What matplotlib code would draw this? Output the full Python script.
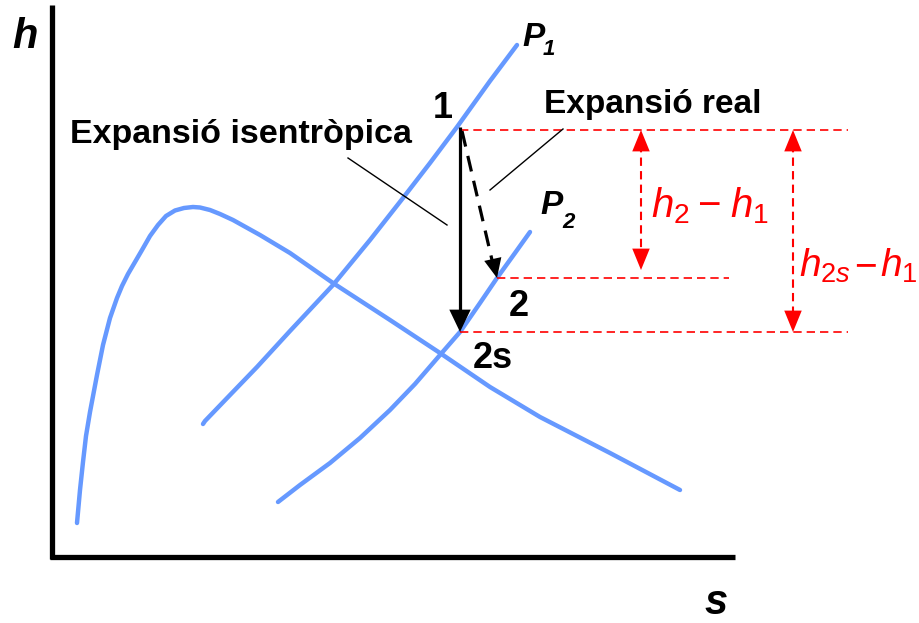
import matplotlib
matplotlib.use("Agg")
import matplotlib.pyplot as plt

plt.rcParams['font.family'] = ['Liberation Sans', 'DejaVu Sans']
plt.rcParams['mathtext.fontset'] = 'custom'
plt.rcParams['mathtext.it'] = 'Liberation Sans:italic'
plt.rcParams['mathtext.rm'] = 'Liberation Sans'
plt.rcParams['mathtext.sf'] = 'Liberation Sans'

# Curves (s, h) in picture coordinates
dome_s = [77, 80, 83, 86, 90, 97, 103, 110, 117, 122, 128, 135, 142, 150, 158, 166, 175, 184, 193, 200, 210, 220, 233, 260, 290, 333, 390, 440, 490, 540, 610, 680]
dome_h = [523, 490, 462, 436, 412, 375, 345, 318, 298, 286, 274, 262, 250, 236, 225, 216, 210.5, 208, 207, 207.5, 210, 214, 220, 235, 253, 283, 320, 353, 387, 417, 453, 490]
p1_s = [203, 205, 230, 257, 290, 333, 370, 403, 430, 457, 490, 517]
p1_h = [424, 421, 395, 367, 331, 285, 240, 198, 163, 127, 81, 45]
p2_s = [278, 300, 330, 360, 390, 415, 440, 460, 480, 497, 515, 530]
p2_h = [502, 485, 463, 438, 410, 384, 355, 332, 303, 278, 253, 232]

# Key states
s1, h1 = 460, 129
s2, h2 = 497, 278
s2s, h2s = 460, 332

blue = '#6699FF'
red = '#FF0000'

fig = plt.figure(figsize=(9.2, 6.23), dpi=100)
ax = fig.add_axes([0, 0, 1, 1])
ax.set_xlim(0, 920)
ax.set_ylim(623, 0)
ax.axis('off')

# axes lines
ax.plot([52.5, 52.5], [5, 559], color='black', lw=3.8, solid_capstyle='butt')
ax.plot([50.5, 735], [557, 557], color='black', lw=3.8, solid_capstyle='butt')

for xs, ys in [(dome_s, dome_h), (p1_s, p1_h), (p2_s, p2_h)]:
    ax.plot(xs, ys, color=blue, lw=3.2, solid_capstyle='round', solid_joinstyle='round')

# red dashed horizontals
dash = (0, (5, 3))
ax.plot([s1, 848], [h1 + 1, h1 + 1], color=red, lw=1.2, linestyle=dash)
ax.plot([s2, 729], [h2, h2], color=red, lw=1.2, linestyle=dash)
ax.plot([s2s, 848], [h2s, h2s], color=red, lw=1.2, linestyle=dash)

# red double arrows
hs = '-|>,head_length=1.1,head_width=0.45'
for x, ya, yb in [(641, h1 + 1, 270), (793, h1 + 1, h2s)]:
    ax.plot([x, x], [ya + 14, yb - 14], color=red, lw=1.5, linestyle=(0, (4, 2.5)))
    ax.annotate('', xy=(x, ya), xytext=(x, ya + 16),
                arrowprops=dict(arrowstyle=hs, color=red, lw=0, shrinkA=0, shrinkB=0, mutation_scale=14))
    ax.annotate('', xy=(x, yb), xytext=(x, yb - 16),
                arrowprops=dict(arrowstyle=hs, color=red, lw=0, shrinkA=0, shrinkB=0, mutation_scale=14))

# isentropic arrow
ax.plot([s1, s1], [h1 - 2, h2s - 12], color='black', lw=2.3, solid_capstyle='butt')
ax.annotate('', xy=(s2s, h2s), xytext=(s2s, h2s - 18),
            arrowprops=dict(arrowstyle='-|>,head_length=1.15,head_width=0.55', color='black', lw=0,
                            shrinkA=0, shrinkB=0, mutation_scale=14))
# real expansion dashed arrow
ax.plot([s1 + 2, s2 - 5], [h1 + 2, h2 - 18], color='black', lw=2.3, linestyle=(0, (5, 3)))
ax.annotate('', xy=(s2, h2), xytext=(s2 - 4, h2 - 18),
            arrowprops=dict(arrowstyle='-|>,head_length=1.0,head_width=0.45', color='black', lw=0,
                            shrinkA=0, shrinkB=0, mutation_scale=14))

# leader lines
ax.plot([348, 447], [158, 225], color='black', lw=1)
ax.plot([563, 490], [129, 190], color='black', lw=1)

# texts
ax.text(25, 48, 'h', fontsize=30, fontstyle='italic', fontweight='bold', ha='center', va='baseline')
ax.text(716, 614, 's', fontsize=30, fontstyle='italic', fontweight='bold', ha='center', va='baseline')
ax.text(522, 46, 'P', fontsize=24, fontstyle='italic', fontweight='bold', ha='left', va='baseline')
ax.text(543, 55, '1', fontsize=16, fontstyle='italic', fontweight='bold', ha='left', va='baseline')
ax.text(540, 214, 'P', fontsize=24, fontstyle='italic', fontweight='bold', ha='left', va='baseline')
ax.text(562, 228, '2', fontsize=16, fontstyle='italic', fontweight='bold', ha='left', va='baseline')
ax.text(443, 118, '1', fontsize=26, fontweight='bold', ha='center', va='baseline')
ax.text(519, 316, '2', fontsize=26, fontweight='bold', ha='center', va='baseline')
ax.text(493, 368, '2s', fontsize=26, fontweight='bold', ha='center', va='baseline')
ax.text(653, 113, 'Expansió real', fontsize=24, fontweight='bold', ha='center', va='baseline')
ax.text(241, 143, 'Expansió isentròpica', fontsize=24.5, fontweight='bold', ha='center', va='baseline')

# red labels
rk = dict(color=red, va='baseline', fontsize=29)
ax.text(651, 217, r'$h_{\mathregular{2}}$', ha='left', **rk)
ax.text(709, 217, '\u2212', ha='center', **rk)
ax.text(730, 217, r'$h_{\mathregular{1}}$', ha='left', **rk)
rk2 = dict(color=red, va='baseline', fontsize=28)
ax.text(799, 277, r'$h_{\mathregular{2}s}$', ha='left', **rk2)
ax.text(866, 277, '\u2212', ha='center', **rk2)
ax.text(917, 277, r'$h_{\mathregular{1}}$', ha='right', **rk2)

fig.savefig('out.png', dpi=100)
